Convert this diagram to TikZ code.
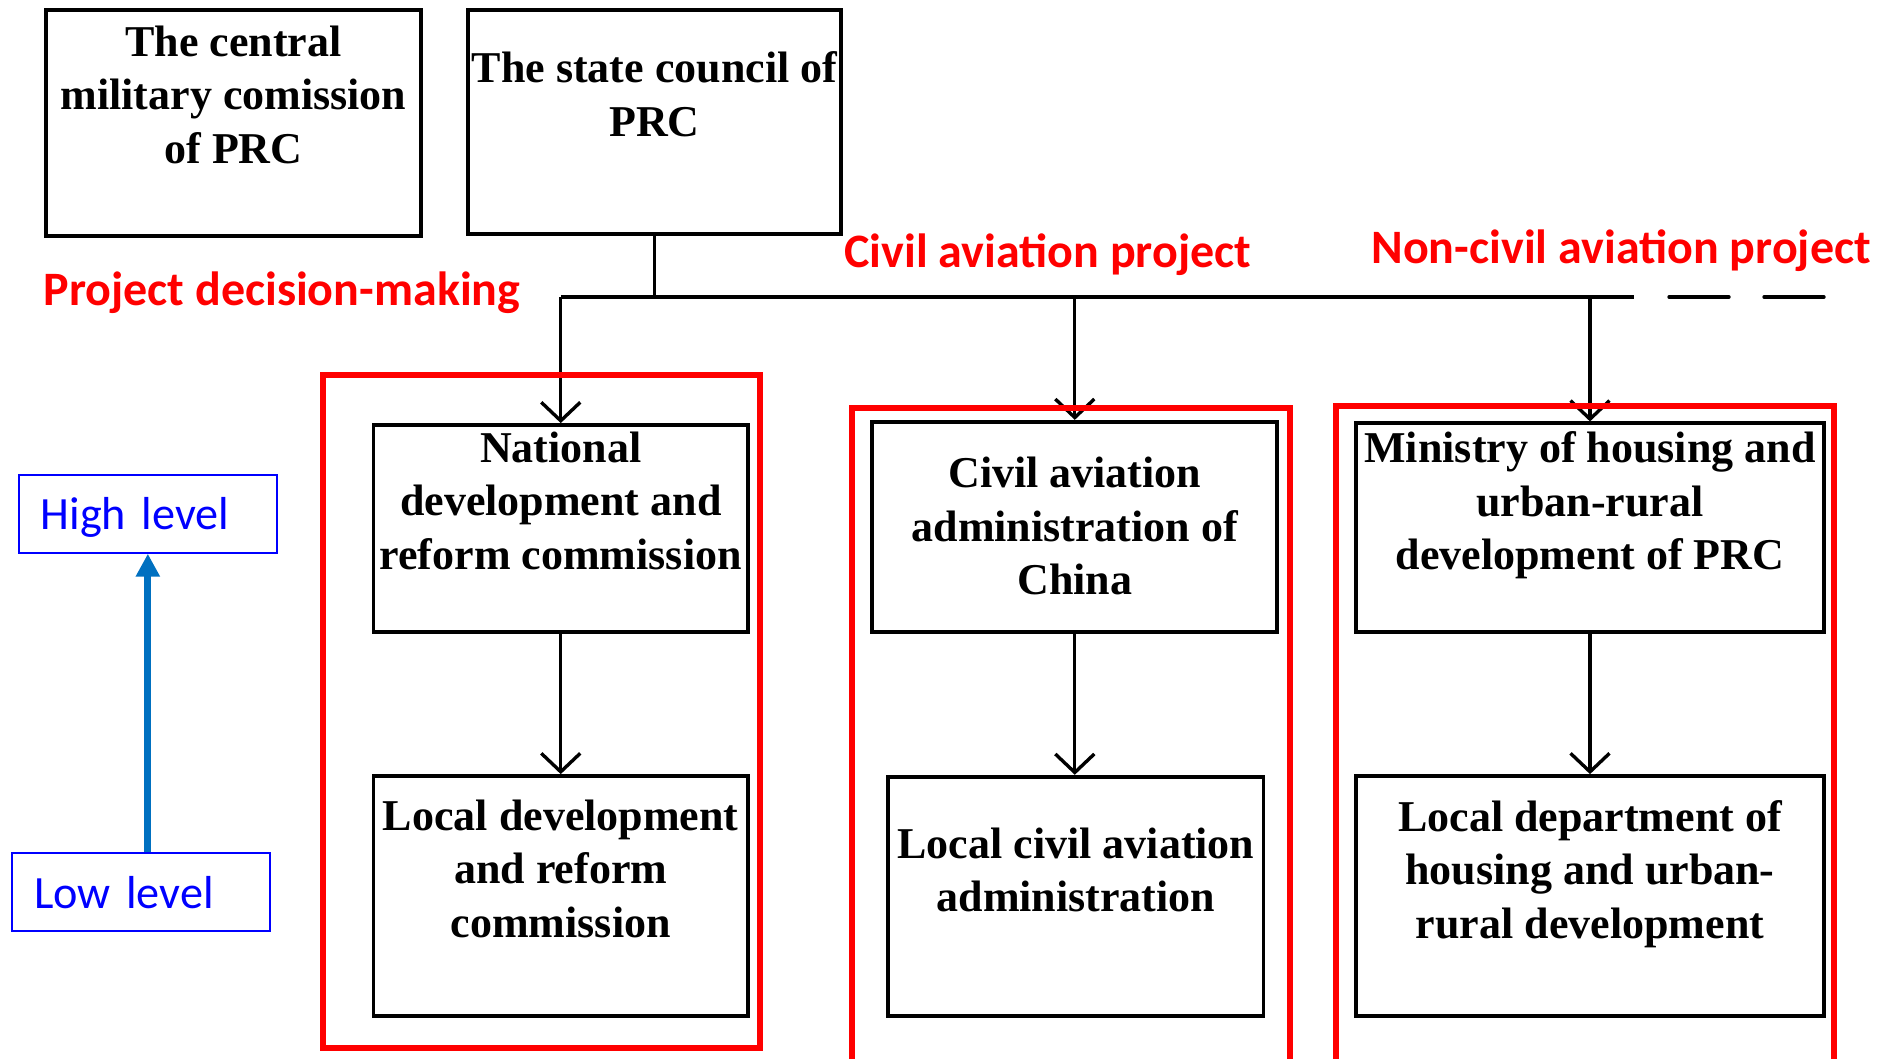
\documentclass[tikz,border=0pt]{standalone}
\usepackage{fontspec}
\setmainfont{Liberation Serif}
\newfontfamily\headfont{Carlito}
\usepackage{xcolor}
\usetikzlibrary{positioning}
\usetikzlibrary{arrows.meta}
\definecolor{levelblue}{HTML}{0070C0}
\tikzset {
  % black box of an organisation
  unit/.style = {draw, line width=1.5pt, inner sep=0pt},
  % the text set in such a box
  unittext/.style = {align=center, inner sep=0pt, font=\bfseries\fontsize{17.6}{21.4}\selectfont},
  % lines from one level to the next
  link/.style = {line width=1.35pt},
  down/.style = {link, -{Straight Barb[length=7.4pt,width=15.6pt]}},
  % red frames round each branch
  group/.style = {draw=red, line width=2.3pt},
  heading/.style = {text=red, anchor=base west, inner sep=0pt, font=\headfont\bfseries\fontsize{19.2}{23}\selectfont},
  % blue boxes for the levels
  level/.style = {draw=blue, line width=0.8pt, text=blue, align=left, text width=85.7pt,
    inner xsep=8.7pt, inner ysep=0pt, minimum height=31.1pt, text depth=0pt,
    font=\headfont\fontsize{18.5}{22}\selectfont},
  up/.style = {draw=levelblue, line width=2.9pt, -{Triangle[length=9.2pt,width=9.2pt]}},
}
\begin{document}
\begin{tikzpicture}[x=0.4pt, y=-0.4pt]
      \useasboundingbox (0,0) rectangle (1888,1059);

      % top level
      \node[unit, minimum width=150pt, minimum height=90.4pt] (cmc) at (233.5,123) {};
      \node[unittext] (cmcText) at (233.5,94.8) {The central\\military comission\\of PRC};
      \node[unit, minimum width=149.2pt, minimum height=89.6pt] (council) at (654.5,122) {};
      \node[unittext] (councilText) at (654.5,94.3) {The state council of\\PRC};

      % ministries
      \node[unit, minimum width=149.8pt, minimum height=82.9pt] (ndrc) at (560.75,528.6) {};
      \node[unittext] (ndrcText) at (560.75,500.6) {National\\development and\\reform commission};
      \node[unit, minimum width=162pt, minimum height=84.2pt] (caac) at (1074.8,527) {};
      \node[unittext] (caacText) at (1074.8,526.3) {Civil aviation\\administration of\\China};
      \node[unit, minimum width=187.2pt, minimum height=83.6pt] (mohurd) at (1590,527.8) {};
      \node[unittext] (mohurdText) at (1590,505.6) {Ministry of housing and\\urban-rural\\development of PRC};

      % local departments
      \node[unit, minimum width=149.8pt, minimum height=96pt] (ldrc) at (560.75,896) {};
      \node[unittext] (ldrcText) at (560.75,868.8) {Local development\\and reform\\commission};
      \node[unit, minimum width=150.1pt, minimum height=95.7pt] (lcaa) at (1075.9,896.3) {};
      \node[unittext] (lcaaText) at (1075.9,869.8) {Local civil aviation\\administration};
      \node[unit, minimum width=187.2pt, minimum height=96pt] (lhurd) at (1590,896) {};
      \node[unittext] (lhurdText) at (1590,873.7) {Local department of\\housing and urban-\\rural development};

      % bus below the state council
      \coordinate (busL) at (560.75,297);
      \coordinate (busR) at (1633.7,297);
      \coordinate (dashA) at (1669,297);
      \coordinate (dashB) at (1824,297);
      \draw[link] (council.south) -- (council.south |- busL);
      \draw[link] (busL) -- (busR);
      \draw[link, line cap=round, dash pattern=on 24pt off 14pt] (dashA) -- (dashB);

      \draw[down] (ndrc.north |- busL) -- (ndrc.north);
      \draw[down] (caac.north |- busL) -- (caac.north);
      \draw[down] (mohurd.north |- busL) -- (mohurd.north);
      \draw[down] (ndrc.south) -- (ldrc.north);
      \draw[down] (caac.south) -- (caac.south |- lcaa.north);
      \draw[down] (mohurd.south) -- (lhurd.north);

      % red frames and headings
      \draw[group] (323.3,375) rectangle (760,1048);
      \draw[group] (852.3,1075) |- (1289.7,408.3) -- (1289.7,1075);
      \draw[group] (1336,1075) |- (1834.3,406) -- (1834.3,1075);
      \node[heading] (decision) at (43,305) {Project decision-making};
      \node[heading] (civil) at (844,267) {Civil aviation project};
      \node[heading] (noncivil) at (1371,263) {Non-civil aviation project};

      % levels
      \node[level] (high) at (147.85,513.85) {High level};
      \node[level] (low) at (141.35,892) {Low level};
      \draw[up] (high.south |- low.north) -- (high.south);
\end{tikzpicture}
\end{document}
